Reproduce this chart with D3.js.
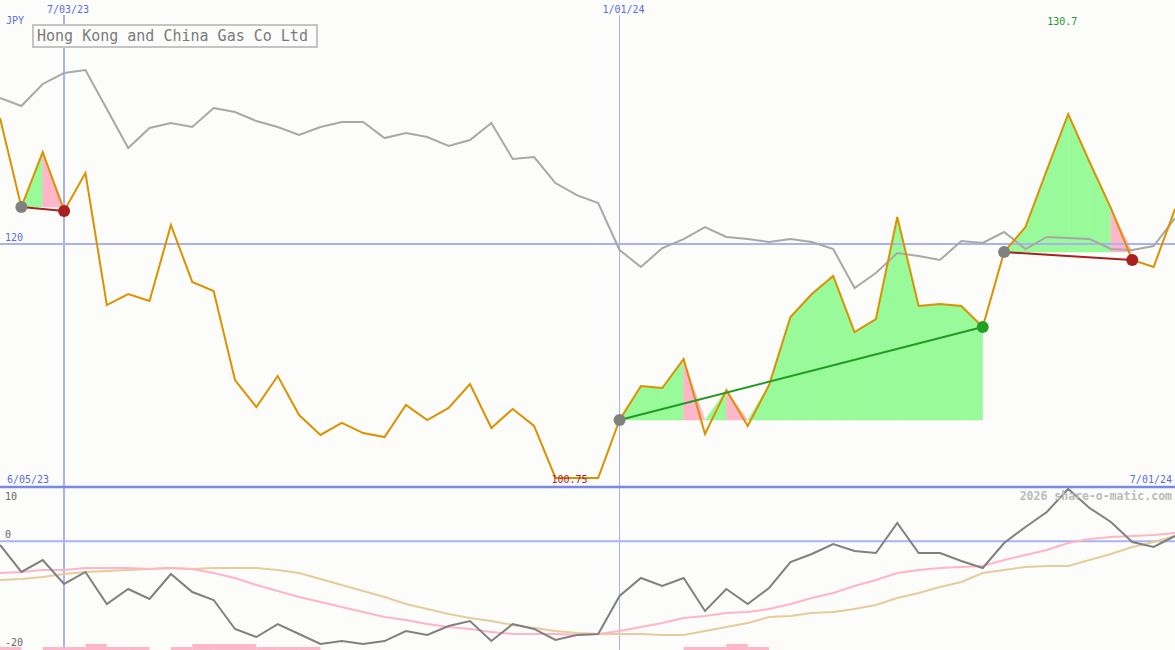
<!DOCTYPE html>
<html><head><meta charset="utf-8">
<script src="https://cdn.jsdelivr.net/npm/d3@7"></script>
<style>
html,body{margin:0;padding:0;background:#fcfdfa;}
svg{display:block;}
text{font-family:"DejaVu Sans Mono",monospace;}
</style></head>
<body>
<svg id="c" width="1175" height="650"></svg>
<script>
const dates = ["2023-06-12","2023-06-19","2023-06-26","2023-07-03","2023-07-10","2023-07-17","2023-07-24","2023-07-31","2023-08-07","2023-08-14","2023-08-21","2023-08-28","2023-09-04","2023-09-11","2023-09-18","2023-09-25","2023-10-02","2023-10-09","2023-10-16","2023-10-23","2023-10-30","2023-11-06","2023-11-13","2023-11-20","2023-11-27","2023-12-04","2023-12-11","2023-12-18","2023-12-25","2024-01-01","2024-01-08","2024-01-15","2024-01-22","2024-01-29","2024-02-05","2024-02-12","2024-02-19","2024-02-26","2024-03-04","2024-03-11","2024-03-18","2024-03-25","2024-04-01","2024-04-08","2024-04-15","2024-04-22","2024-04-29","2024-05-06","2024-05-13","2024-05-20","2024-05-27","2024-06-03","2024-06-10","2024-06-17","2024-06-24","2024-07-01"];
const price = [130.37,123.05,127.57,122.72,125.84,114.98,115.89,115.31,121.57,116.88,116.14,108.81,106.59,109.14,105.93,104.29,105.28,104.45,104.12,106.76,105.52,106.51,108.48,104.86,106.43,105.03,100.75,100.75,100.75,105.52,108.32,108.15,110.54,104.37,107.99,105.03,108.40,114.00,115.89,117.37,112.76,113.83,122.22,114.90,115.07,114.90,113.17,119.34,121.40,126.09,130.70,126.75,122.96,118.69,118.11,122.88];
const compare = [132.02,131.36,133.17,134.07,134.32,131.11,127.90,129.55,129.96,129.63,131.19,130.86,130.12,129.63,128.97,129.63,130.04,130.04,128.72,129.14,128.81,128.07,128.56,129.96,127.00,127.16,125.02,124.03,123.38,119.51,118.11,119.67,120.41,121.40,120.58,120.41,120.17,120.41,120.17,119.59,116.38,117.62,119.26,119.02,118.69,120.25,120.09,120.99,119.59,120.58,120.50,120.41,119.59,119.51,119.84,122.14];
const osc = [-0.67,-5.64,-3.44,-7.85,-5.64,-11.53,-8.77,-10.61,-6.01,-9.33,-10.80,-16.13,-17.61,-15.22,-17.06,-18.90,-18.35,-18.90,-18.35,-16.51,-17.24,-15.59,-14.66,-18.35,-15.22,-16.13,-18.16,-17.24,-17.06,-10.06,-6.75,-8.22,-6.75,-12.82,-8.77,-11.53,-8.59,-3.81,-2.33,-0.49,-1.78,-2.15,3.37,-2.15,-2.15,-3.62,-4.91,-0.31,2.64,5.40,9.63,6.14,3.56,-0.12,-1.04,0.98];
const oscFast = [-5.83,-5.64,-5.28,-5.28,-4.91,-4.91,-4.91,-5.09,-4.91,-5.09,-5.83,-6.75,-8.04,-9.14,-10.25,-11.17,-12.09,-13.01,-13.93,-14.48,-15.22,-15.77,-16.13,-16.69,-17.06,-17.06,-17.06,-17.24,-17.06,-16.51,-15.77,-15.04,-14.11,-13.74,-13.19,-13.01,-12.46,-11.53,-10.43,-9.51,-8.22,-7.12,-5.83,-5.28,-4.91,-4.72,-4.54,-3.44,-2.52,-1.60,-0.31,0.43,0.80,0.98,1.17,1.53];
const oscSlow = [-7.11,-6.93,-6.57,-6.01,-5.64,-5.46,-5.28,-5.09,-4.91,-5.09,-4.91,-4.91,-4.91,-5.28,-5.83,-6.93,-8.04,-9.14,-10.25,-11.53,-12.46,-13.38,-14.11,-14.67,-15.40,-15.95,-16.51,-16.87,-17.06,-17.06,-17.06,-17.24,-17.24,-16.51,-15.77,-15.04,-13.93,-13.74,-13.19,-13.01,-12.46,-11.72,-10.43,-9.51,-8.41,-7.49,-5.83,-5.28,-4.72,-4.54,-4.54,-3.44,-2.33,-1.04,-0.12,0.98];
const histo = [1,0,1,1,2,1,1,0,1,2,2,2,1,1,1,0,0,0,0,0,0,0,0,0,0,0,0,0,0,0,0,0,1,1,2,1,0,0,0,0,0,0,0,0,0,0,0,0,0,0,0,0,0,0,0];
const tradeEntry = [1,29,47];
const tradeExit = [3,46,53];
const pinkSegments = [2,32,34,52];
const dateTicks = ["2023-07-03","2024-01-01"];
const dateTickLabels = ["7/03/23","1/01/24"];
const priceTicks = [120];
const oscTicks = [10,0,-20];
const title = "Hong Kong and China Gas Co Ltd";
const currency = "JPY";
const startLabel = "6/05/23", endLabel = "7/01/24";
const watermark = "2026 share-o-matic.com";

const parse = d3.timeParse("%Y-%m-%d");
const D = dates.map(parse);
const svg = d3.select("#c");
const W = 1175;

const x = d3.scaleTime().domain([D[0], D[D.length-1]]).range([0, W]);
const y = d3.scaleLinear().domain([100.75, 130.7]).range([478, 114]);
const yo = d3.scaleLinear().domain([-20, 10]).range([650, 487]);
const yh = d3.scaleLinear().domain([0, 2]).range([650, 644]);

const gridCol = "#a9b3f2";
const blue = "#5a6ae6";

// fills for trades
const fillG = svg.append("g");
tradeEntry.forEach((e, t) => {
  const ex = tradeExit[t];
  const base = price[e];
  for (let j = e; j < ex; j++) {
    const pts = [
      [x(D[j]), y(base)],
      [x(D[j]), y(Math.max(price[j], base))],
      [x(D[j+1]), y(Math.max(price[j+1], base))],
      [x(D[j+1]), y(base)]
    ];
    const c = pinkSegments.includes(j) ? "#ffb6c8" : "#98fa98";
    fillG.append("path")
      .attr("d", "M" + pts.map(p => p.join(",")).join("L") + "Z")
      .attr("fill", c).attr("stroke", c).attr("stroke-width", 0.5);
  }
});

// horizontal grid lines
priceTicks.forEach(v => {
  svg.append("line").attr("x1", 0).attr("x2", W).attr("y1", y(v)).attr("y2", y(v))
    .attr("stroke", gridCol).attr("stroke-width", 2);
  svg.append("text").attr("x", 5).attr("y", y(v) - 3).attr("fill", blue)
    .attr("font-size", 10).text(v);
});
// zero line in oscillator
svg.append("line").attr("x1", 0).attr("x2", W).attr("y1", yo(0)).attr("y2", yo(0))
  .attr("stroke", gridCol).attr("stroke-width", 2);

// vertical date lines
dateTicks.forEach((d, i) => {
  const xx = x(parse(d));
  svg.append("line").attr("x1", xx).attr("x2", xx).attr("y1", 15).attr("y2", 650)
    .attr("stroke", gridCol).attr("stroke-width", i === 0 ? 2 : 1)
    .attr("shape-rendering", "crispEdges");
  svg.append("text").attr("x", xx + 4).attr("y", 13).attr("text-anchor", "middle")
    .attr("fill", blue).attr("font-size", 10).text(dateTickLabels[i]);
});

// panel separator
svg.append("line").attr("x1", 0).attr("x2", W).attr("y1", 487).attr("y2", 487)
  .attr("stroke", "#7a88ea").attr("stroke-width", 2.5);

// comparison line
const line = (ys) => d3.line().x((d, i) => x(D[i])).y(d => ys(d));
svg.append("path").datum(compare).attr("d", line(y))
  .attr("fill", "none").attr("stroke", "#a8a8a8").attr("stroke-width", 2);

// price line
svg.append("path").datum(price).attr("d", line(y))
  .attr("fill", "none").attr("stroke", "#dc9100").attr("stroke-width", 2);

// trade lines and dots
tradeEntry.forEach((e, t) => {
  const ex = tradeExit[t];
  const win = price[ex] > price[e];
  const col = win ? "#229922" : "#a82020";
  svg.append("line").attr("x1", x(D[e])).attr("y1", y(price[e]))
    .attr("x2", x(D[ex])).attr("y2", y(price[ex]))
    .attr("stroke", col).attr("stroke-width", 2);
  svg.append("circle").attr("cx", x(D[e])).attr("cy", y(price[e])).attr("r", 6)
    .attr("fill", "#808080");
  svg.append("circle").attr("cx", x(D[ex])).attr("cy", y(price[ex])).attr("r", 6)
    .attr("fill", win ? "#22a022" : "#a82020");
});

// min / max labels
const iMax = price.indexOf(d3.max(price));
const iMin = price.indexOf(d3.min(price));
svg.append("text").attr("x", x(D[iMax]) - 6).attr("y", 25).attr("text-anchor", "middle")
  .attr("fill", "#22992a").attr("font-size", 10).text(d3.max(price));
svg.append("text").attr("x", x(D[iMin]) - 4).attr("y", 483)
  .attr("fill", "#aa2222").attr("font-size", 10).text(d3.min(price));

// labels
svg.append("text").attr("x", 6).attr("y", 24).attr("fill", blue).attr("font-size", 10).text(currency);
svg.append("text").attr("x", 7).attr("y", 483).attr("fill", blue).attr("font-size", 10).text(startLabel);
svg.append("text").attr("x", 1172).attr("y", 483).attr("text-anchor", "end").attr("fill", blue).attr("font-size", 10).text(endLabel);

// title box
svg.append("rect").attr("x", 33).attr("y", 25).attr("width", 284).attr("height", 22)
  .attr("fill", "#fcfdfa").attr("stroke", "#c4c4c4").attr("stroke-width", 2);
svg.append("text").attr("x", 37).attr("y", 41).attr("fill", "#7a7a7a").attr("font-size", 15).text(title);

// oscillator panel
histo.forEach((v, i) => {
  if (v > 0) {
    svg.append("rect").attr("x", x(D[i])).attr("width", x(D[i+1]) - x(D[i]))
      .attr("y", yh(v)).attr("height", yh(0) - yh(v)).attr("fill", "#ffb6c8");
  }
});
svg.append("path").datum(oscSlow).attr("d", line(yo))
  .attr("fill", "none").attr("stroke", "#e6cc9a").attr("stroke-width", 2);
svg.append("path").datum(oscFast).attr("d", line(yo))
  .attr("fill", "none").attr("stroke", "#ffb4c8").attr("stroke-width", 2);
svg.append("path").datum(osc).attr("d", line(yo))
  .attr("fill", "none").attr("stroke", "#808080").attr("stroke-width", 2);

oscTicks.forEach((v, i) => {
  const yy = i === 0 ? 500 : (i === oscTicks.length - 1 ? 646 : yo(v) - 3);
  svg.append("text").attr("x", 5).attr("y", yy).attr("fill", "#666")
    .attr("font-size", 10).text(v);
});

svg.append("text").attr("x", 1172).attr("y", 500).attr("text-anchor", "end")
  .attr("fill", "#bbbbbb").attr("font-size", 11.5).attr("font-weight", "bold").text(watermark);
</script>
</body></html>
